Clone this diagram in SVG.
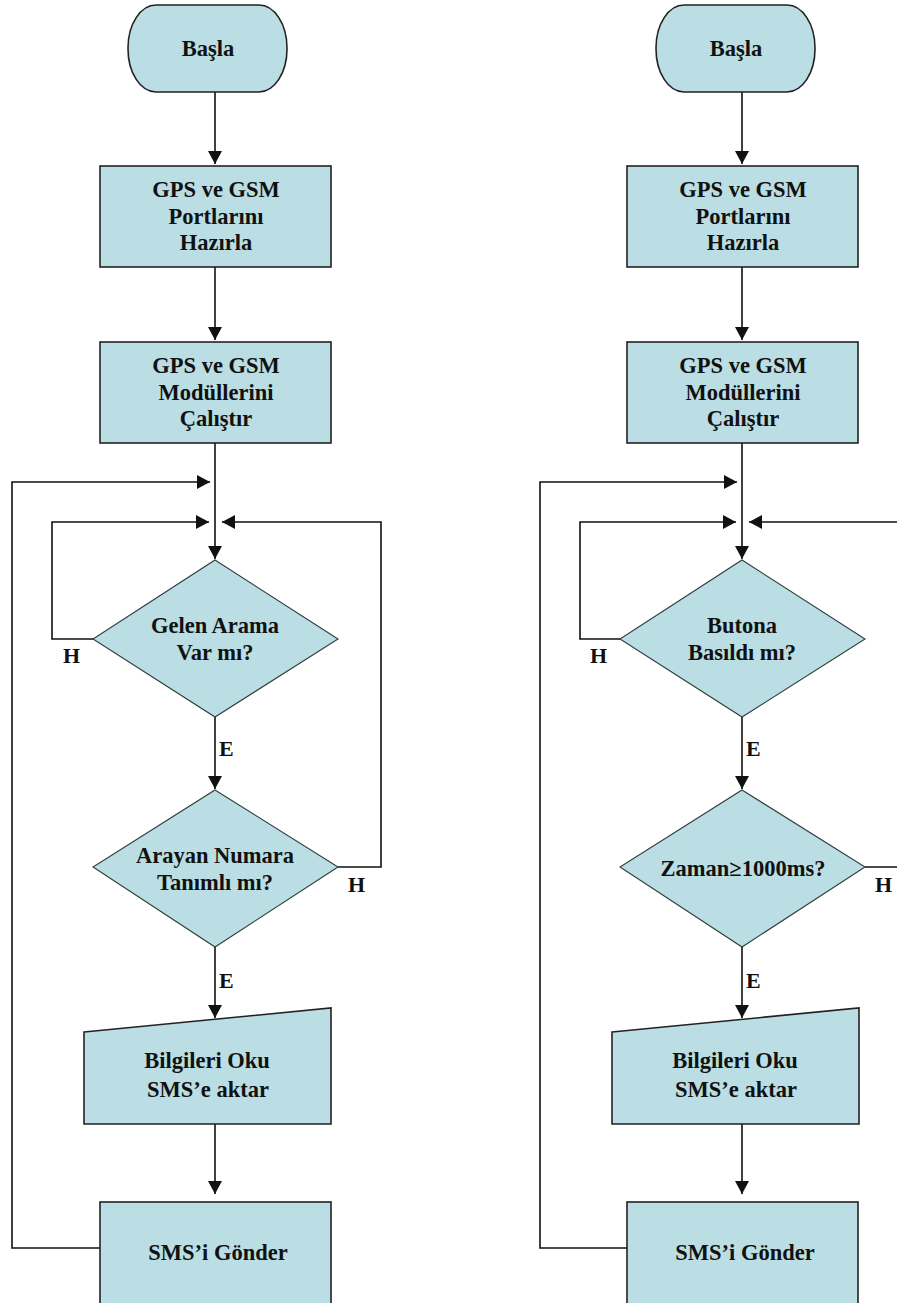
<svg xmlns="http://www.w3.org/2000/svg" width="897" height="1303" viewBox="0 0 897 1303">
  <defs>
    <style>
      .shape { fill: #BADEE3; stroke: #222; stroke-width: 1.6; }
      .dia { fill: #BADEE3; stroke: #2f3d3d; stroke-width: 1.1; }
      .lbl { font-family: "Liberation Serif", "Times New Roman", serif; font-weight: bold; font-size: 22.5px; fill: #111; text-anchor: middle; }
      .yn { font-family: "Liberation Serif", "Times New Roman", serif; font-weight: bold; font-size: 22px; fill: #111; }
      .edge { fill: none; stroke: #111; stroke-width: 1.6; marker-end: url(#arrow); }
    </style>
    <marker id="arrow" markerUnits="userSpaceOnUse" markerWidth="13" markerHeight="14" refX="13" refY="7" orient="auto">
      <path d="M0,0 L13,7 L0,14 z" fill="#111"/>
    </marker>
  </defs>
  <rect width="897" height="1303" fill="#fff"/>

  <!-- Left flow: incoming call check -->
  <g id="left-flow">
    <g id="connectors-left">
      <path class="edge" d="M215,92 V164"/>
      <path class="edge" d="M215,267 V340"/>
      <path class="edge" d="M215,443 V559"/>
      <path class="edge" d="M100,1248 H12 V482 H210"/>
      <path class="edge" d="M93,639 H52 V522 H209"/>
      <path class="edge" d="M338,867 H381 V522 H222"/>
      <path class="edge" d="M215,717 V789"/>
      <path class="edge" d="M215,947 V1018"/>
      <path class="edge" d="M215,1124 V1194"/>
      <text class="yn" x="63" y="663">H</text>
      <text class="yn" x="348" y="892">H</text>
      <text class="yn" x="219" y="756">E</text>
      <text class="yn" x="219" y="988">E</text>
    </g>
    <g id="l-start">
      <rect class="shape" x="128" y="5" width="159" height="87" rx="28" ry="43"/>
      <text class="lbl" x="208" y="56">Başla</text>
    </g>
    <g id="l-ports">
      <rect class="shape" x="100" y="166" width="231" height="101"/>
      <text class="lbl" x="216" y="197">GPS ve GSM</text>
      <text class="lbl" x="216" y="224">Portlarını</text>
      <text class="lbl" x="216" y="250">Hazırla</text>
    </g>
    <g id="l-modules">
      <rect class="shape" x="100" y="342" width="231" height="101"/>
      <text class="lbl" x="216" y="373">GPS ve GSM</text>
      <text class="lbl" x="216" y="400">Modüllerini</text>
      <text class="lbl" x="216" y="426">Çalıştır</text>
    </g>
    <g id="l-call">
      <polygon class="dia" points="215,560 338,639 215,717 93,639"/>
      <text class="lbl" x="215" y="633">Gelen Arama</text>
      <text class="lbl" x="215" y="660">Var mı?</text>
    </g>
    <g id="l-number">
      <polygon class="dia" points="215,790 338,867 215,947 93,867"/>
      <text class="lbl" x="215" y="863">Arayan Numara</text>
      <text class="lbl" x="215" y="890">Tanımlı mı?</text>
    </g>
    <g id="l-read">
      <polygon class="shape" points="84,1032 331,1008 331,1124 84,1124"/>
      <text class="lbl" x="207" y="1068">Bilgileri Oku</text>
      <text class="lbl" x="208" y="1097">SMS’e aktar</text>
    </g>
    <g id="l-send">
      <rect class="shape" x="100" y="1202" width="231" height="120"/>
      <text class="lbl" x="218" y="1260">SMS’i Gönder</text>
    </g>
  </g>

  <!-- Right flow: button press check -->
  <g id="right-flow" transform="translate(527,0)">
    <g id="connectors-right">
      <path class="edge" d="M215,92 V164"/>
      <path class="edge" d="M215,267 V340"/>
      <path class="edge" d="M215,443 V559"/>
      <path class="edge" d="M100,1248 H13 V482 H210"/>
      <path class="edge" d="M93,639 H53 V522 H209"/>
      <path class="edge" d="M338,867 H381 V522 H222"/>
      <path class="edge" d="M215,717 V789"/>
      <path class="edge" d="M215,947 V1018"/>
      <path class="edge" d="M215,1124 V1194"/>
      <text class="yn" x="63" y="663">H</text>
      <text class="yn" x="348" y="892">H</text>
      <text class="yn" x="219" y="756">E</text>
      <text class="yn" x="219" y="988">E</text>
    </g>
    <g id="r-start">
      <rect class="shape" x="129" y="5" width="159" height="87" rx="28" ry="43"/>
      <text class="lbl" x="209" y="56">Başla</text>
    </g>
    <g id="r-ports">
      <rect class="shape" x="100" y="166" width="231" height="101"/>
      <text class="lbl" x="216" y="197">GPS ve GSM</text>
      <text class="lbl" x="216" y="224">Portlarını</text>
      <text class="lbl" x="216" y="250">Hazırla</text>
    </g>
    <g id="r-modules">
      <rect class="shape" x="100" y="342" width="231" height="101"/>
      <text class="lbl" x="216" y="373">GPS ve GSM</text>
      <text class="lbl" x="216" y="400">Modüllerini</text>
      <text class="lbl" x="216" y="426">Çalıştır</text>
    </g>
    <g id="r-button">
      <polygon class="dia" points="215,560 338,639 215,717 93,639"/>
      <text class="lbl" x="215" y="633">Butona</text>
      <text class="lbl" x="215" y="660">Basıldı mı?</text>
    </g>
    <g id="r-time">
      <polygon class="dia" points="215,790 338,867 215,947 93,867"/>
      <text class="lbl" x="216" y="876">Zaman≥1000ms?</text>
    </g>
    <g id="r-read">
      <polygon class="shape" points="85,1032 332,1008 332,1124 85,1124"/>
      <text class="lbl" x="208" y="1068">Bilgileri Oku</text>
      <text class="lbl" x="209" y="1097">SMS’e aktar</text>
    </g>
    <g id="r-send">
      <rect class="shape" x="100" y="1202" width="231" height="120"/>
      <text class="lbl" x="218" y="1260">SMS’i Gönder</text>
    </g>
  </g>
</svg>
